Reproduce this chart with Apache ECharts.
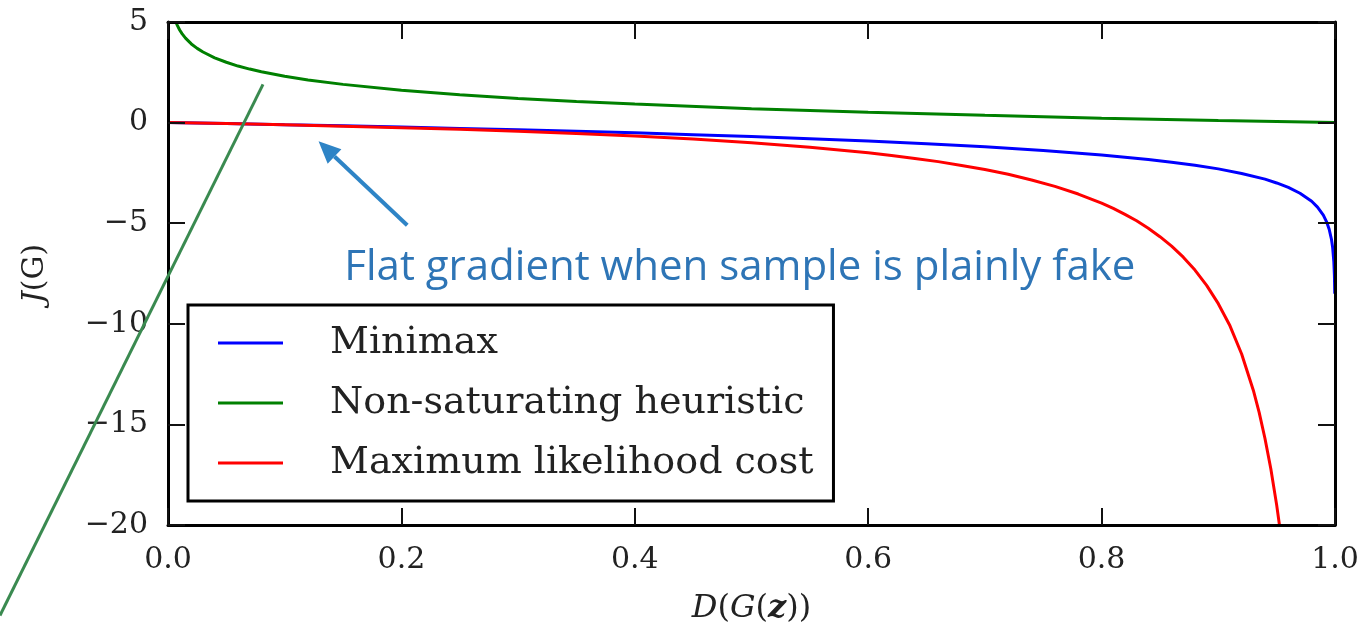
<!DOCTYPE html>
<html>
<head>
<meta charset="utf-8">
<title>J(G) vs D(G(z))</title>
<script src="https://cdn.jsdelivr.net/npm/echarts@6.0.0/dist/echarts.min.js"></script>
<style>
html, body { margin: 0; padding: 0; background: #fff; }
#chart { width: 1362px; height: 634px; }
</style>
</head>
<body>
<div id="chart"></div>
<script>
// values
var seriesNames = ["Minimax", "Non-saturating heuristic", "Maximum likelihood cost"];

var minimaxD = [0, 0.05, 0.1, 0.15, 0.2, 0.25, 0.3, 0.35, 0.4, 0.45, 0.5, 0.55, 0.6, 0.65, 0.7, 0.75, 0.8, 0.82, 0.84, 0.86, 0.88, 0.9, 0.92, 0.94, 0.95, 0.96, 0.97, 0.98, 0.985, 0.99, 0.993, 0.995, 0.997, 0.998, 0.999, 0.9995, 0.9998];
var minimaxJ = [0, -0.05, -0.11, -0.16, -0.22, -0.29, -0.36, -0.43, -0.51, -0.6, -0.69, -0.8, -0.92, -1.05, -1.2, -1.39, -1.61, -1.72, -1.83, -1.97, -2.12, -2.3, -2.53, -2.81, -3.0, -3.22, -3.51, -3.91, -4.2, -4.6, -4.96, -5.3, -5.81, -6.21, -6.91, -7.6, -8.5];

var nonSatD = [0.0067, 0.008, 0.01, 0.012, 0.015, 0.02, 0.025, 0.03, 0.04, 0.05, 0.06, 0.07, 0.08, 0.1, 0.12, 0.15, 0.2, 0.25, 0.3, 0.35, 0.4, 0.5, 0.6, 0.7, 0.8, 0.9, 1.0];
var nonSatJ = [5.0, 4.83, 4.6, 4.42, 4.2, 3.91, 3.69, 3.51, 3.22, 3.0, 2.81, 2.66, 2.53, 2.3, 2.12, 1.9, 1.61, 1.39, 1.2, 1.05, 0.92, 0.69, 0.51, 0.36, 0.22, 0.1, 0];

var mlD = [0, 0.05, 0.1, 0.15, 0.2, 0.25, 0.3, 0.35, 0.4, 0.45, 0.5, 0.55, 0.6, 0.62, 0.64, 0.66, 0.68, 0.7, 0.72, 0.74, 0.76, 0.78, 0.8, 0.81, 0.82, 0.83, 0.84, 0.85, 0.86, 0.87, 0.88, 0.89, 0.9, 0.91, 0.92, 0.93, 0.935, 0.94, 0.945, 0.95, 0.9524];
var mlJ = [0, -0.05, -0.11, -0.18, -0.25, -0.33, -0.43, -0.54, -0.67, -0.82, -1.0, -1.22, -1.5, -1.63, -1.78, -1.94, -2.13, -2.33, -2.57, -2.85, -3.17, -3.55, -4.0, -4.26, -4.56, -4.88, -5.25, -5.67, -6.14, -6.69, -7.33, -8.09, -9.0, -10.1, -11.5, -13.3, -14.4, -15.7, -17.2, -19.0, -20.0];

var xTicks = [0, 0.2, 0.4, 0.6, 0.8, 1.0];
var yTicks = [-20, -15, -10, -5, 0, 5];

// annotation anchors, in data units
var noteText = "Flat gradient when sample is plainly fake";
var noteAt = [0.49, -7.25];
var arrowFrom = [0.205, -5.1];
var arrowTo = [0.129, -0.93];
var pointerFrom = [0.0814, 1.9];
var pointerTo = [-0.144, -24.5];

var colors = ["#0000ff", "#008000", "#ff0000"];
var serif = "DejaVu Serif";

function pairs(xs, ys) {
    return xs.map(function (x, i) { return [x, ys[i]]; });
}
function minus(v) {
    return String(v).replace("-", "\u2212");
}

var chart = echarts.init(document.getElementById("chart"));

function axisBase(extra) {
    var base = {
        type: "value",
        z: 5,
        splitLine: { show: false },
        axisLine: { show: true, onZero: false, lineStyle: { color: "#000", width: 3 } },
        axisTick: { show: true, inside: true, length: 17, lineStyle: { color: "#111", width: 2 } }
    };
    return Object.assign(base, extra);
}

var labelStyle = { fontFamily: serif, fontSize: 30, color: "#222" };

chart.setOption({
    animation: false,
    backgroundColor: "#fff",
    grid: { left: 168, right: 27, top: 22, bottom: 109, containLabel: false },
    xAxis: [
        axisBase({
            position: "bottom",
            min: xTicks[0], max: xTicks[xTicks.length - 1], interval: 0.2,
            axisLabel: Object.assign({ margin: 20, formatter: function (v) { return v.toFixed(1); } }, labelStyle),
            name: "{i|D}{n|(}{i|G}{n|(}{b|z}{n|))}",
            nameLocation: "middle",
            nameGap: 68,
            nameTextStyle: {
                rich: {
                    i: { fontFamily: serif, fontSize: 32, fontStyle: "italic", color: "#222" },
                    n: { fontFamily: serif, fontSize: 32, color: "#222" },
                    b: { fontFamily: serif, fontSize: 32, fontStyle: "italic", fontWeight: "bold", color: "#222" }
                }
            }
        }),
        axisBase({
            position: "top",
            min: xTicks[0], max: xTicks[xTicks.length - 1], interval: 0.2,
            axisLabel: { show: false }
        })
    ],
    yAxis: [
        axisBase({
            position: "left",
            min: yTicks[0], max: yTicks[yTicks.length - 1], interval: 5,
            axisLabel: Object.assign({ margin: 20, formatter: minus }, labelStyle),
            name: "{i|J}{n|(G)}",
            nameLocation: "middle",
            nameGap: 118,
            nameTextStyle: {
                rich: {
                    i: { fontFamily: serif, fontSize: 30, fontStyle: "italic", color: "#222" },
                    n: { fontFamily: serif, fontSize: 30, color: "#222" }
                }
            }
        }),
        axisBase({
            position: "right",
            min: yTicks[0], max: yTicks[yTicks.length - 1], interval: 5,
            axisLabel: { show: false }
        })
    ],
    legend: {
        data: seriesNames,
        orient: "vertical",
        left: 188,
        top: 305,
        padding: [18, 20, 18, 30],
        itemGap: 20,
        itemWidth: 65,
        itemHeight: 3,
        icon: "rect",
        borderColor: "#000",
        borderWidth: 3,
        borderRadius: 0,
        backgroundColor: "#fff",
        z: 8,
        textStyle: { fontFamily: serif, fontSize: 38, color: "#222", lineHeight: 40, padding: [0, 0, 0, 42] }
    },
    series: [
        { name: seriesNames[0], data: pairs(minimaxD, minimaxJ), color: colors[0] },
        { name: seriesNames[1], data: pairs(nonSatD, nonSatJ), color: colors[1] },
        { name: seriesNames[2], data: pairs(mlD, mlJ), color: colors[2] }
    ].map(function (s) {
        return {
            name: s.name,
            type: "line",
            data: s.data,
            showSymbol: false,
            symbol: "none",
            clip: true,
            itemStyle: { color: s.color },
            lineStyle: { color: s.color, width: 3 }
        };
    })
});

// annotations placed through the axes' own scale
var px = function (p) { return chart.convertToPixel({ gridIndex: 0 }, p); };
var a0 = px(arrowFrom), a1 = px(arrowTo);
var g0 = px(pointerFrom), g1 = px(pointerTo);
var note = px(noteAt);

var dx = a1[0] - a0[0], dy = a1[1] - a0[1];
var len = Math.sqrt(dx * dx + dy * dy);
var ux = dx / len, uy = dy / len;
var headLen = 22, headHalf = 10;
var base = [a1[0] - ux * headLen, a1[1] - uy * headLen];
var arrowBlue = "#2e84c6";

chart.setOption({
    graphic: [
        {
            type: "line", z: 20,
            shape: { x1: g0[0], y1: g0[1], x2: g1[0], y2: g1[1] },
            style: { stroke: "#3a8a50", lineWidth: 3 }
        },
        {
            type: "line", z: 20,
            shape: { x1: a0[0], y1: a0[1], x2: base[0], y2: base[1] },
            style: { stroke: arrowBlue, lineWidth: 4 }
        },
        {
            type: "polygon", z: 20,
            shape: {
                points: [
                    a1,
                    [base[0] - uy * headHalf, base[1] + ux * headHalf],
                    [base[0] + uy * headHalf, base[1] - ux * headHalf]
                ]
            },
            style: { fill: arrowBlue }
        },
        {
            type: "text", z: 20,
            x: note[0], y: note[1],
            style: {
                text: noteText,
                fill: "#2e75b6",
                fontFamily: "Open Sans",
                fontSize: 42,
                align: "center",
                verticalAlign: "middle"
            }
        }
    ]
});
</script>
</body>
</html>
